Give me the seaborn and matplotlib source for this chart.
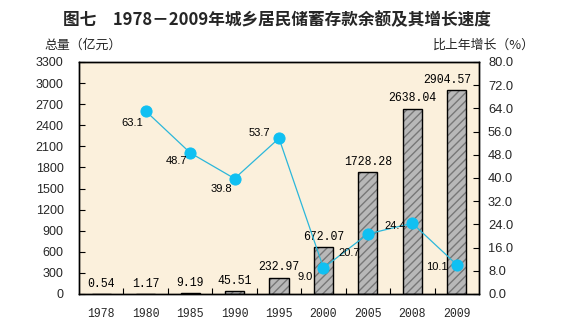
import numpy as np
import pandas as pd
import matplotlib
matplotlib.use("Agg")
import matplotlib.pyplot as plt
from matplotlib.patches import Rectangle
import seaborn as sns

years = ["1978", "1980", "1985", "1990", "1995", "2000", "2005", "2008", "2009"]
totals = [0.54, 1.17, 9.19, 45.51, 232.97, 672.07, 1728.28, 2638.04, 2904.57]
total_labels = ["0.54", "1.17", "9.19", "45.51", "232.97", "672.07", "1728.28", "2638.04", "2904.57"]
growth_years = ["1980", "1985", "1990", "1995", "2000", "2005", "2008", "2009"]
growth = [63.1, 48.7, 39.8, 53.7, 9.0, 20.7, 24.4, 10.1]
growth_labels = ["63.1", "48.7", "39.8", "53.7", "9.0", "20.7", "24.4", "10.1"]
left_ticks = list(range(0, 3301, 300))
right_ticks = [0.0, 8.0, 16.0, 24.0, 32.0, 40.0, 48.0, 56.0, 64.0, 72.0, 80.0]

sns.set_theme(style="white")
plt.rcParams['font.family'] = ['Liberation Sans', 'Noto Sans CJK SC', 'DejaVu Sans']
plt.rcParams['hatch.linewidth'] = 1.0

fig = plt.figure(figsize=(5.63, 3.29), dpi=100)
fig.patch.set_facecolor("white")
ax = fig.add_axes([79/563, 1-294/329, 400/563, 232/329])
ax.set_facecolor("#FBF0DC")

df = pd.DataFrame({"year": years, "total": totals})
sns.barplot(data=df, x="year", y="total", order=years, ax=ax, width=0.43,
            color="#B8B8B8", saturation=1, edgecolor="#6E6E6E", linewidth=0)

bars = [p for p in ax.patches if isinstance(p, Rectangle)]
for p in bars:
    p.set_hatch("////")
    p.set_edgecolor("#777777")
    p.set_linewidth(0)
    ax.add_patch(Rectangle(p.get_xy(), p.get_width(), p.get_height(),
                           fill=False, edgecolor="black", linewidth=1.0, zorder=3))

label_dx = [0, 0, 0, 0, 0, 0, 0, 0, -9]
for p, lab, dx in zip(bars, total_labels, label_dx):
    ax.annotate(lab, (p.get_x() + p.get_width()/2, p.get_height()),
                xytext=(dx*0.72, 3), textcoords="offset points", ha="center", va="bottom",
                fontsize=8.3, family=["Liberation Mono"], color="black", zorder=5)

ax.set_ylim(0, 3300)
ax.set_xlim(-0.5, len(years) - 0.5)
ax.set_yticks(left_ticks)
ax.set_yticklabels([str(t) for t in left_ticks], fontsize=9)
ax.set_xticks(range(len(years)))
ax.set_xticklabels(years, fontsize=8.3, family=["Liberation Mono"])
ax.set_xticks(np.arange(0.5, len(years) - 0.5, 1), minor=True)
ax.tick_params(axis="x", which="major", length=0, pad=10)
ax.tick_params(axis="x", which="minor", direction="in", length=4, width=0.8, color="black", bottom=True)
ax.tick_params(axis="y", direction="in", length=4, width=0.8, color="black", left=True, pad=11)
ax.set_xlabel("")
ax.set_ylabel("")
for s in ax.spines.values():
    s.set_color("black")
    s.set_linewidth(1.0)

ax2 = ax.twinx()
gx = [years.index(y) for y in growth_years]
gdf = pd.DataFrame({"pos": gx, "growth": growth})
sns.lineplot(data=gdf, x="pos", y="growth", ax=ax2, color="#2BB7DA", linewidth=0.9,
             marker="o", markersize=8, markerfacecolor="#10C0F2", markeredgecolor="#10C0F2")
ax2.set_ylim(0, 80)
ax2.set_yticks(right_ticks)
ax2.set_yticklabels([f"{t:.1f}" for t in right_ticks], fontsize=9.3)
ax2.tick_params(axis="y", direction="in", length=4, width=0.8, color="black", right=True, pad=6.5)
ax2.set_xlabel("")
ax2.set_ylabel("")
ax2.set_xlim(-0.5, len(years) - 0.5)
for s in ax2.spines.values():
    s.set_color("black")
    s.set_linewidth(1.0)

offsets = [(-13, -12), (-14, -8), (-13, -10), (-20, 5), (-18, -9), (-19, -19), (-17, -3), (-20, -2)]
for x, v, lab, (dx, dy) in zip(gx, growth, growth_labels, offsets):
    ax2.annotate(lab, (x, v), xytext=(dx*0.72, dy*0.72), textcoords="offset points",
                 ha="center", va="center", fontsize=8, color="black", zorder=6)

fig.text(277/563, 1-20/329, "图七　1978－2009年城乡居民储蓄存款余额及其增长速度",
         ha="center", va="center", fontsize=12, fontweight="bold",
         family=["Noto Sans CJK SC", "DejaVu Sans"])
fig.text(83/563, 1-45/329, "总量（亿元）", ha="center", va="center", fontsize=9.3,
         family=["Noto Sans CJK SC", "DejaVu Sans"])
fig.text(484/563, 1-45/329, "比上年增长（%）", ha="center", va="center", fontsize=9.3,
         family=["Noto Sans CJK SC", "DejaVu Sans"])

fig.savefig("out.png", dpi=100, facecolor="white")
